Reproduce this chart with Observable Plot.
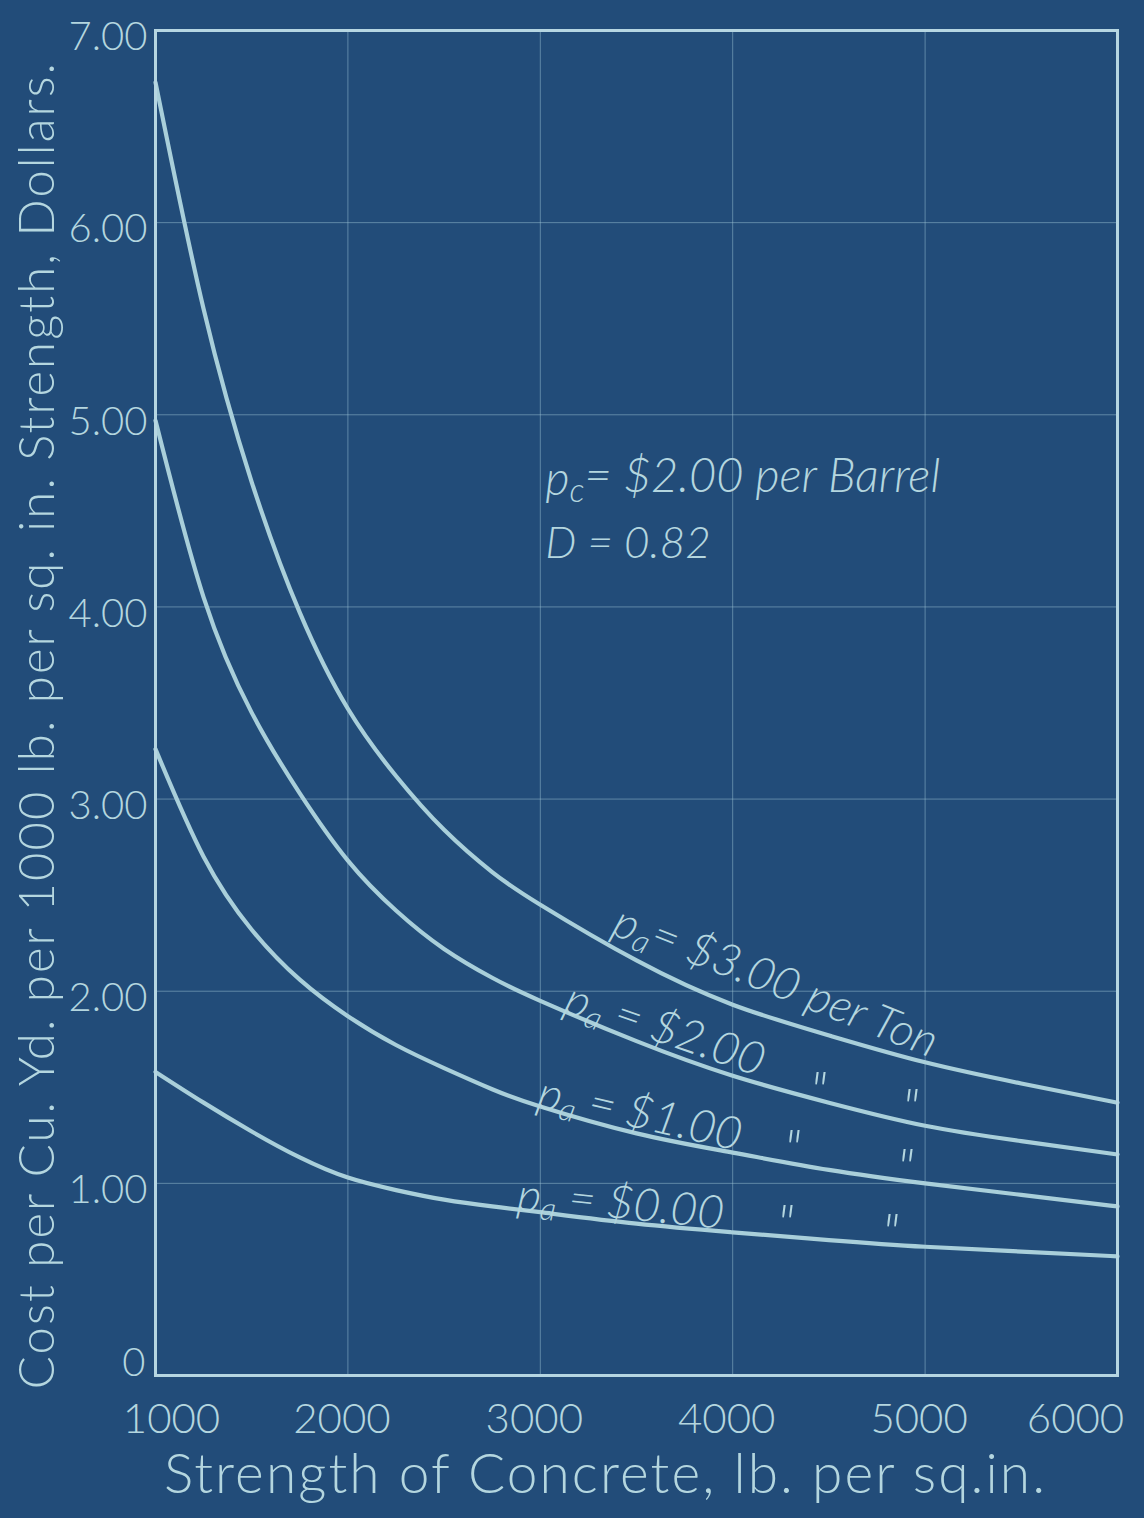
<!DOCTYPE html>
<html>
<head>
<meta charset="utf-8">
<script src="https://cdn.jsdelivr.net/npm/d3@7"></script>
<script src="https://cdn.jsdelivr.net/npm/@observablehq/plot@0.6"></script>
<style>
  html, body { margin: 0; padding: 0; background: #224c79; }
  #chart svg { display: block; }
</style>
</head>
<body>
<div id="chart"></div>
<script>
// ---- data ----
const strengths = [1000, 1250, 1500, 1750, 2000, 2250, 2500, 2750, 3000, 3500, 4000, 4500, 5000, 5500, 6000];
const costPa300 = [6.73, 5.55, 4.65, 3.97, 3.47, 3.12, 2.84, 2.62, 2.45, 2.16, 1.93, 1.77, 1.63, 1.52, 1.42];
const costPa200 = [4.97, 4.05, 3.45, 3.03, 2.68, 2.42, 2.22, 2.07, 1.95, 1.74, 1.56, 1.42, 1.30, 1.22, 1.15];
const costPa100 = [3.26, 2.70, 2.32, 2.06, 1.87, 1.72, 1.60, 1.49, 1.40, 1.26, 1.16, 1.07, 1.00, 0.94, 0.88];
const costPa000 = [1.58, 1.42, 1.27, 1.135, 1.03, 0.965, 0.915, 0.88, 0.85, 0.79, 0.745, 0.705, 0.67, 0.645, 0.62];
const seriesNames = ["pa=$3.00", "pa=$2.00", "pa=$1.00", "pa=$0.00"];

const xTicks = [1000, 2000, 3000, 4000, 5000, 6000];
const yTicks = [0, 1, 2, 3, 4, 5, 6, 7];
const yTickLabels = ["0", "1.00", "2.00", "3.00", "4.00", "5.00", "6.00", "7.00"];

const xTitle = "Strength of Concrete, lb. per sq.in.";
const yTitle = "Cost per Cu. Yd. per 1000 lb. per sq. in. Strength, Dollars.";

// curve labels (data-space anchor, rotation in degrees)
const curveLabels = [
  {text: "p_a= $3.00 per Ton", x: 4220, y: 2.04, angle: 21.6},
  {text: "p_a = $2.00", x: 3646, y: 1.79, angle: 19},
  {text: "p_a = $1.00", x: 3516, y: 1.35, angle: 13},
  {text: "p_a = $0.00", x: 3417, y: 0.88, angle: 6}
];
const dittoX = [4446, 4924, 4311, 4898, 4274, 4820];
const dittoY = [1.52, 1.43, 1.22, 1.12, 0.83, 0.78];
const noteLine1 = ["p_c= $2.00 per Barrel"];
const noteLine2 = ["D = 0.82"];
const noteX = 3026;
const noteY = [4.66, 4.33];

// ---- build tidy table ----
const seriesValues = [costPa300, costPa200, costPa100, costPa000];
const rows = [];
seriesNames.forEach((name, i) => {
  strengths.forEach((s, j) => rows.push({series: name, strength: s, cost: seriesValues[i][j]}));
});
const dittos = dittoX.map((x, i) => ({x, y: dittoY[i]}));

const ink = "#b4d6df";
const curveInk = "#a9cfda";
const tickFmt = d => yTickLabels[yTicks.indexOf(d)];

const chart = Plot.plot({
  width: 1144,
  height: 1518,
  marginTop: 30,
  marginRight: 27,
  marginBottom: 143,
  marginLeft: 155,
  style: {background: "#224c79", color: ink, fontFamily: "Lato, 'Open Sans', sans-serif", fontSize: "40px"},
  x: {domain: [1000, 6000]},
  y: {domain: [0, 7]},
  marks: [
    Plot.gridX(xTicks, {stroke: "#9cc3d6", strokeOpacity: 0.5, strokeWidth: 1}),
    Plot.gridY(yTicks, {stroke: "#9cc3d6", strokeOpacity: 0.5, strokeWidth: 1}),
    Plot.axisY(yTicks.slice(1), {
      tickSize: 0, tickPadding: 8, fontSize: 40, fontWeight: 300,
      tickFormat: tickFmt, label: null, dy: 7
    }),
    Plot.axisY([yTicks[0]], {
      tickSize: 0, tickPadding: 10, fontSize: 40, fontWeight: 300,
      tickFormat: tickFmt, label: null, dy: -12
    }),
    Plot.axisX(xTicks.slice(1, 5), {
      tickSize: 0, tickPadding: 28, fontSize: 42, fontWeight: 300,
      tickFormat: d => String(d), label: null, dx: -6
    }),
    Plot.axisX([xTicks[0]], {
      tickSize: 0, tickPadding: 28, fontSize: 42, fontWeight: 300,
      tickFormat: d => String(d), label: null, dx: 16
    }),
    Plot.axisX([xTicks[5]], {
      tickSize: 0, tickPadding: 28, fontSize: 42, fontWeight: 300,
      tickFormat: d => String(d), label: null, dx: -42
    }),
    Plot.text([xTitle], {frameAnchor: "bottom", lineAnchor: "middle", textAnchor: "middle", dy: 100, dx: -31, fontSize: 55, fontWeight: 300, text: d => d}),
    Plot.text([yTitle], {frameAnchor: "left", textAnchor: "middle", lineAnchor: "middle", dx: -117, dy: 22, rotate: -90, fontSize: 49, fontWeight: 300, text: d => d}),
    Plot.line(rows, {x: "strength", y: "cost", z: "series", curve: "natural", stroke: curveInk, strokeWidth: 4.2, strokeLinecap: "round"}),
    Plot.frame({stroke: "#b6d6e2", strokeWidth: 3}),
    Plot.text(curveLabels, {x: "x", y: "y", text: "text", rotate: d => d.angle, fontSize: 46, fontStyle: "italic", fontWeight: 300}),
    Plot.text(dittos, {x: "x", y: "y", text: () => "\"", dy: 8, fontSize: 52, fontStyle: "italic", fontWeight: 300}),
    Plot.text(noteLine1, {x: () => noteX, y: () => noteY[0], text: d => d, textAnchor: "start", fontSize: 47, fontStyle: "italic", fontWeight: 300}),
    Plot.text(noteLine2, {x: () => noteX, y: () => noteY[1], text: d => d, textAnchor: "start", fontSize: 44, fontStyle: "italic", fontWeight: 300})
  ]
});

const root = d3.select(chart);
// letter spacing on the two axis titles (hand-lettered look, matches reference length)
root.selectAll("text").each(function() {
  const t = this.textContent;
  if (t === xTitle || t === yTitle) d3.select(this).attr("letter-spacing", "2.1px");
});
// subscripts: turn "p_a" / "p_c" into p with a subscript letter
root.selectAll("text").each(function() {
  const t = this.textContent;
  if (this.childElementCount === 0 && /p_[ac]/.test(t)) {
    const m = t.match(/^(.*?)p_([ac])(.*)$/);
    const sel = d3.select(this);
    sel.text(null);
    if (m[1]) sel.append("tspan").text(m[1]);
    sel.append("tspan").text("p");
    sel.append("tspan").attr("dy", "0.2em").attr("font-size", "0.7em").text(m[2]);
    sel.append("tspan").attr("dy", "-0.2em").text(m[3]);
  }
});

document.getElementById("chart").appendChild(chart);
</script>
</body>
</html>
